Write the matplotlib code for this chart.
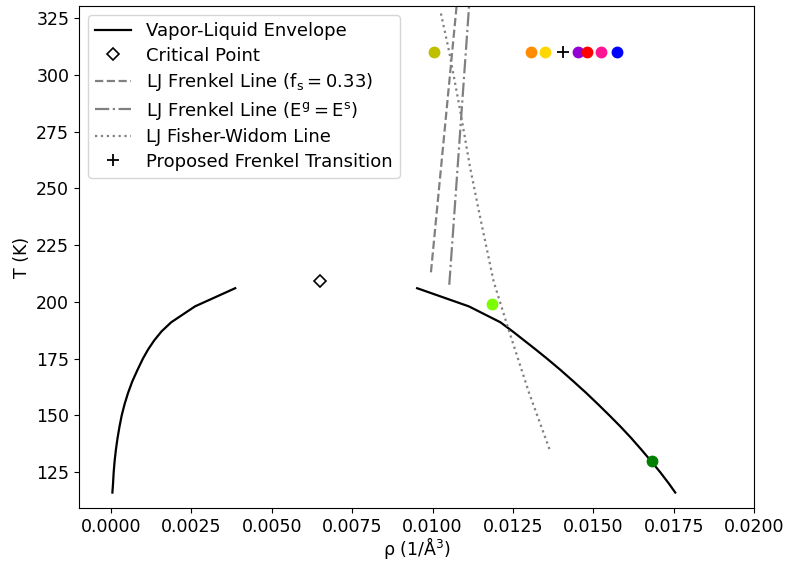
import numpy as np
import matplotlib.pyplot as plt

# vapor-liquid coexistence (T in K, densities in 1/A^3)
T_vle = np.array([116, 120, 125, 130, 135, 140, 145, 150, 155, 160,
                  165, 170, 175, 179, 183, 187, 191, 198, 206])
rho_vap = np.array([0.00004, 0.00006, 0.00008, 0.00011, 0.00015, 0.00020, 0.00026,
                    0.00033, 0.00042, 0.00053, 0.00066, 0.00082, 0.00099, 0.00115,
                    0.00134, 0.00157, 0.00187, 0.00261, 0.00386])
rho_liq = np.array([0.01755, 0.01735, 0.01708, 0.01679, 0.01649, 0.01618, 0.01585,
                    0.01550, 0.01514, 0.01477, 0.01438, 0.01398, 0.01356, 0.01321,
                    0.01285, 0.01249, 0.01211, 0.01113, 0.00952])

rho_crit, T_crit = 0.00651, 209.2

# Frenkel lines
rho_fs = [0.00995, 0.01078]
T_fs = [213, 335]
rho_E = [0.01052, 0.01116]
T_E = [207.5, 335]

# Fisher-Widom line
rho_fw = [0.01026, 0.01052, 0.01085, 0.01117, 0.01147, 0.01190, 0.01236, 0.01300, 0.01364]
T_fw = [327, 310, 285, 259, 238, 209, 188, 160, 135]

# state points
pt_rho = [0.01006, 0.01307, 0.01351, 0.01451, 0.01480, 0.01523, 0.01573, 0.01184, 0.01684]
pt_T = [310, 310, 310, 310, 310, 310, 310, 199, 130]
pt_colors = ['y', 'darkorange', 'gold', 'darkviolet', 'red', 'deeppink', 'blue', 'lawngreen', 'green']

rho_transition, T_transition = 0.01405, 310

plt.rcParams['font.size'] = 12.5
fig, ax = plt.subplots(figsize=(7.85, 5.65), dpi=100)
fig.subplots_adjust(left=0.1006, right=0.9605, top=0.9894, bottom=0.1009)

ax.plot(rho_vap, T_vle, color='black', lw=1.6, label='Vapor-Liquid Envelope')
ax.plot(rho_liq, T_vle, color='black', lw=1.6)
ax.plot(rho_crit, T_crit, 'D', mfc='white', mec='black', ms=6.5, mew=1.2, ls='none', label='Critical Point')
ax.plot(rho_fs, T_fs, '--', color='grey', lw=1.6, label=r'LJ Frenkel Line ($\mathregular{f_s = 0.33}$)')
ax.plot(rho_E, T_E, '-.', color='grey', lw=1.6, label=r'LJ Frenkel Line ($\mathregular{E^g = E^s}$)')
ax.plot(rho_fw, T_fw, ':', color='grey', lw=1.6, label='LJ Fisher-Widom Line')

for r, t, c in zip(pt_rho, pt_T, pt_colors):
    ax.plot(r, t, 'o', color=c, ms=7.5)
ax.plot(rho_transition, T_transition, '+', color='black', ms=8, mew=1.3, ls='none',
        label='Proposed Frenkel Transition')

ax.set_xlim(-0.001, 0.0200)
ax.set_ylim(109.2, 330.3)
ax.set_xticks(np.arange(0, 0.02001, 0.0025))
ax.set_xlabel(r'ρ (1/Å$^3$)', labelpad=-0.5)
ax.set_ylabel('T (K)')
ax.legend(loc='upper left', fontsize=13, labelspacing=0.36)

plt.savefig('out.png')
